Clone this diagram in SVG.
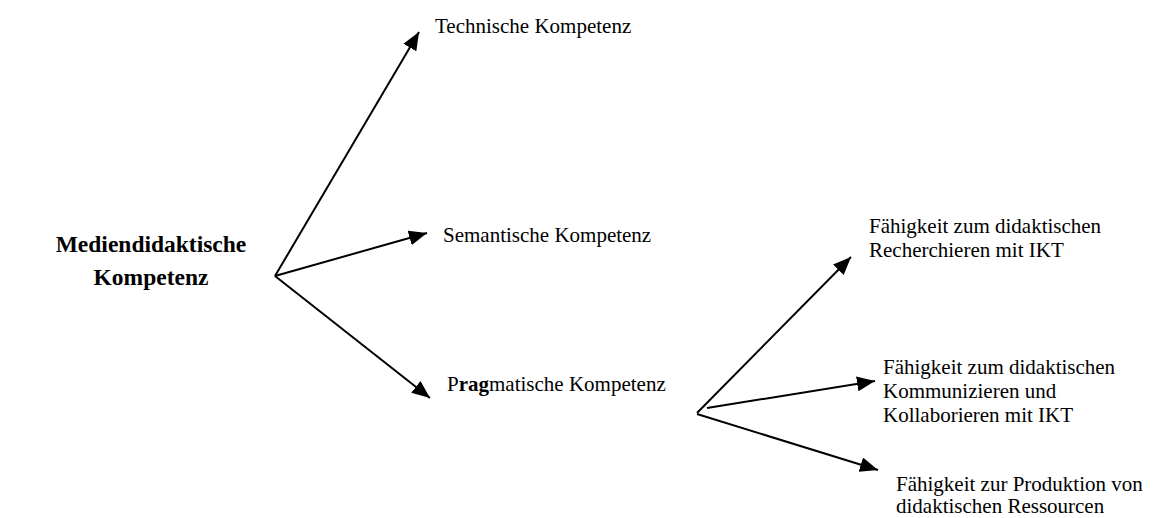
<svg xmlns="http://www.w3.org/2000/svg" width="1153" height="518" viewBox="0 0 1153 518">
  <style>
    .lbl { font-family: "Liberation Serif", "Times New Roman", serif; font-size: 21px; fill: #000; }
    .title { font-family: "Liberation Serif", "Times New Roman", serif; font-size: 23.5px; font-weight: bold; fill: #000; }
    .b { font-weight: bold; }
    .edge { stroke: #000; stroke-width: 2; fill: none; }
    .arr { marker-end: url(#head); }
  </style>
  <defs>
    <marker id="head" markerUnits="userSpaceOnUse" markerWidth="19" markerHeight="15" refX="18" refY="7.5" orient="auto">
      <path d="M0,0 L18,7.5 L0,15 Z" fill="#000"/>
    </marker>
  </defs>
  <rect width="1153" height="518" fill="#fff"/>

  <!-- connectors -->
  <g id="connectors">
    <path class="edge arr" d="M275,276 L419,32"/>
    <path class="edge arr" d="M275,276 L427,233"/>
    <path class="edge arr" d="M275,276 L430,398"/>
    <path class="edge arr" d="M697,413 L851,257"/>
    <path class="edge arr" d="M707,408 L875,381"/>
    <path class="edge arr" d="M697,414 L878,470"/>
  </g>

  <!-- root node -->
  <g id="node-mediendidaktische">
    <text class="title" x="151" y="252" text-anchor="middle">Mediendidaktische</text>
    <text class="title" x="151" y="285" text-anchor="middle">Kompetenz</text>
  </g>

  <g id="node-technisch">
    <text class="lbl" x="435" y="33">Technische Kompetenz</text>
  </g>

  <g id="node-semantisch">
    <text class="lbl" x="443" y="242">Semantische Kompetenz</text>
  </g>

  <g id="node-pragmatisch">
    <text class="lbl" x="447" y="391">P<tspan class="b">rag</tspan>matische Kompetenz</text>
  </g>

  <g id="node-recherchieren">
    <text class="lbl" x="869" y="233">Fähigkeit zum didaktischen</text>
    <text class="lbl" x="869" y="257">Recherchieren mit IKT</text>
  </g>

  <g id="node-kommunizieren">
    <text class="lbl" x="883" y="374">Fähigkeit zum didaktischen</text>
    <text class="lbl" x="883" y="398">Kommunizieren und</text>
    <text class="lbl" x="883" y="422">Kollaborieren mit IKT</text>
  </g>

  <g id="node-produktion">
    <text class="lbl" x="896" y="491">Fähigkeit zur Produktion von</text>
    <text class="lbl" x="896" y="513">didaktischen Ressourcen</text>
  </g>
</svg>
